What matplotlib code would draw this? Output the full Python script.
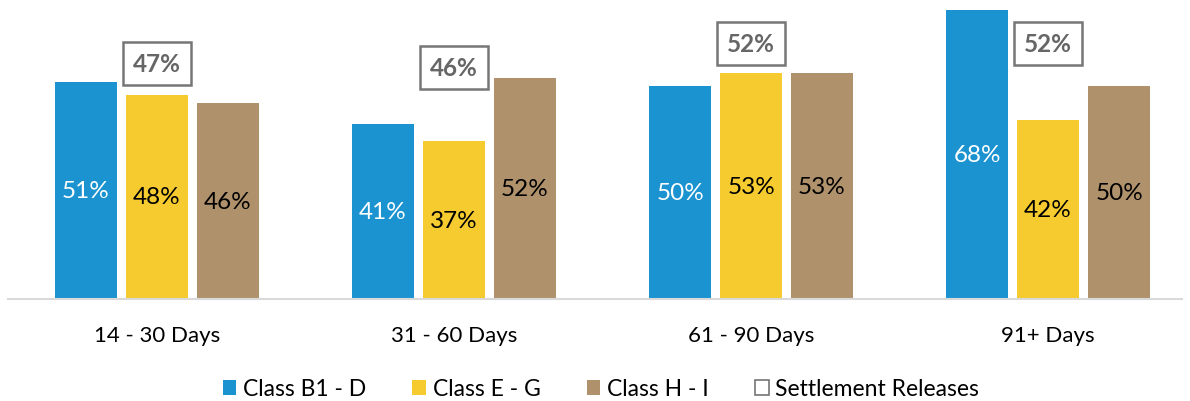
import matplotlib
matplotlib.use("Agg")
import matplotlib.pyplot as plt
from matplotlib.patches import Patch
import numpy as np

plt.rcParams['font.family'] = ['Lato', 'DejaVu Sans']

categories = ["14 - 30 Days", "31 - 60 Days", "61 - 90 Days", "91+ Days"]
class_b1_d = [51, 41, 50, 68]
class_e_g = [48, 37, 53, 42]
class_h_i = [46, 52, 53, 50]
settlement_releases = [47, 46, 52, 52]
series_names = ["Class B1 - D", "Class E - G", "Class H - I"]

colors = ["#1A93D0", "#F5CB30", "#AF916B"]
label_colors = ["white", "black", "black"]

fig = plt.figure(figsize=(11.9, 4.02), dpi=100)
W, H = 1190, 402
ax = fig.add_axes([8 / W, (H - 300) / H, (1182 - 8) / W, 298 / H])

x = np.arange(len(categories))
width = 0.209
step = 0.239
for i, (vals, c, lc) in enumerate(zip([class_b1_d, class_e_g, class_h_i], colors, label_colors)):
    pos = x + (i - 1) * step
    bars = ax.bar(pos, vals, width, color=c, zorder=2)
    for b, v in zip(bars, vals):
        ax.text(b.get_x() + b.get_width() / 2, v / 2, f"{v}%", ha="center", va="center",
                color=lc, fontsize=17.5)

ax.set_xlim(-0.5017, 3.451)
ax.set_ylim(0, 70)
for s in ["top", "right", "left"]:
    ax.spines[s].set_visible(False)
ax.spines["bottom"].set_color("#D9D9D9")
ax.spines["bottom"].set_linewidth(1.5)
ax.set_yticks([])
ax.set_xticks(x)
ax.set_xticklabels(categories, fontsize=16, color="black")
ax.tick_params(axis="x", length=0, pad=19)

# settlement releases on a secondary scale, shown as boxed labels
ax2 = ax.twinx()
ax2.set_ylim(-11.9, 62.6)
ax2.axis("off")
for xi, v in zip(x, settlement_releases):
    ax2.text(xi, v, f"{v}%", ha="center", va="center", fontsize=17.5, fontweight="bold",
             color="#666666",
             bbox=dict(boxstyle="square,pad=0.42", facecolor="white", edgecolor="#767676", linewidth=1.8))

handles = [Patch(facecolor=c, edgecolor="none") for c in colors]
handles.append(Patch(facecolor="white", edgecolor="#767676", linewidth=1.2))
labels = series_names + ["Settlement Releases"]
fig.legend(handles, labels, loc="center", bbox_to_anchor=(0.505, (H - 390) / H), ncol=4,
           frameon=False, fontsize=16.5, handlelength=0.6, handleheight=0.6, handletextpad=0.3,
           columnspacing=2.0)

fig.savefig("out.png", dpi=100, facecolor="white")
